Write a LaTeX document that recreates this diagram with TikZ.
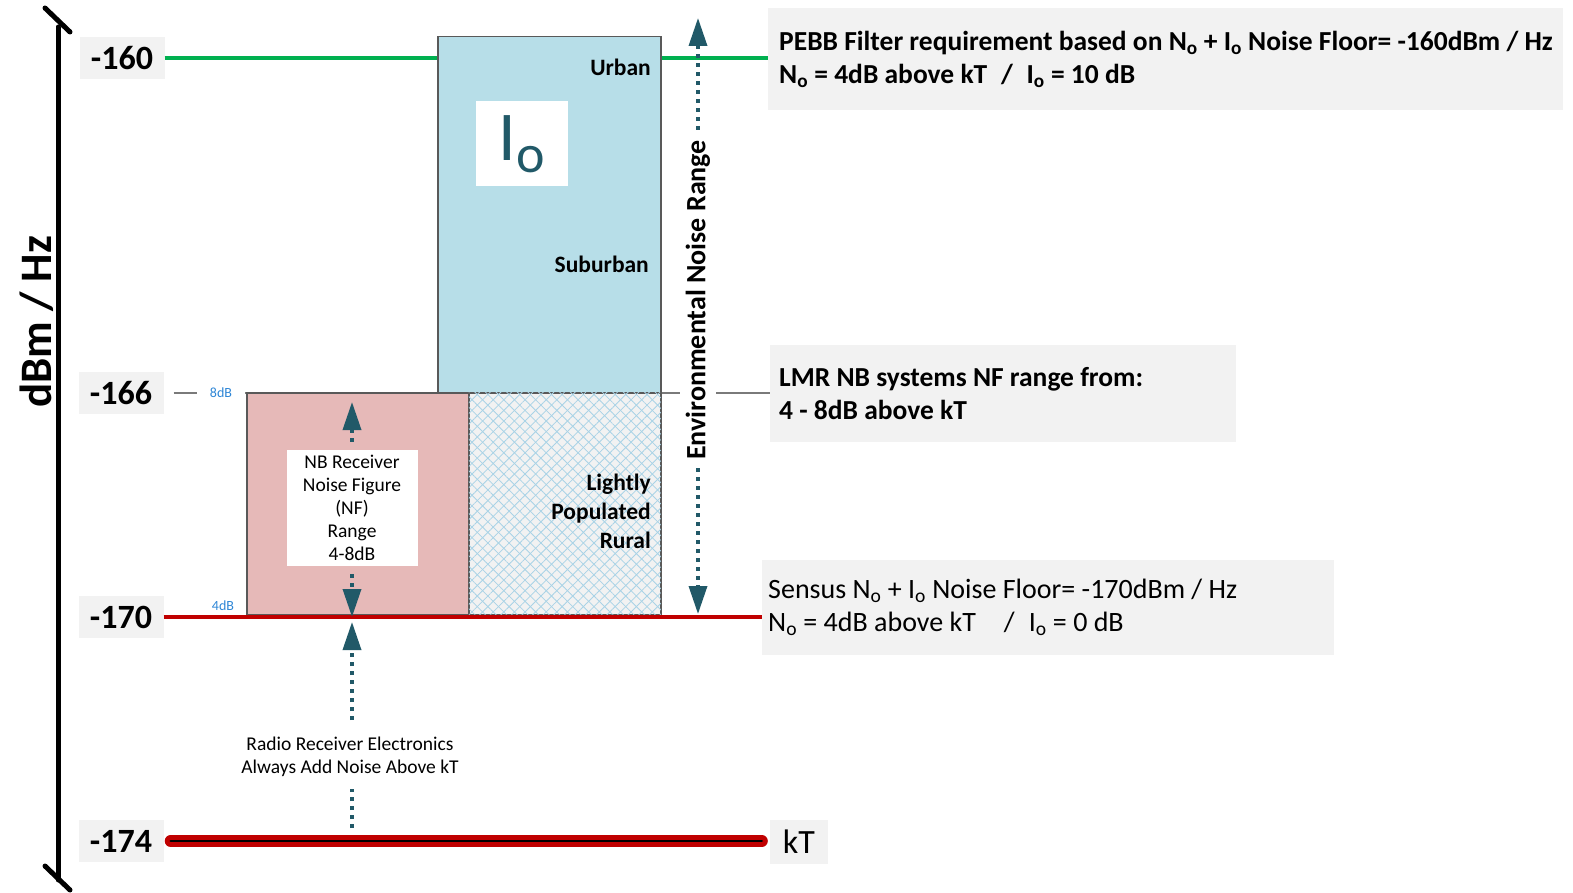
\documentclass[tikz,border=0pt]{standalone}
\usepackage{fontspec}
\setmainfont{Carlito}
\usetikzlibrary{positioning,arrows.meta,patterns.meta}

\definecolor{labelgray}{HTML}{F2F2F2}
\definecolor{iobluefill}{HTML}{B7DEE8}
\definecolor{nfpink}{HTML}{E6B9B8}
\definecolor{hatchblue}{HTML}{A9D3E6}
\definecolor{edgegray}{HTML}{595959}
\definecolor{floorgreen}{HTML}{00B050}
\definecolor{floorred}{HTML}{C00000}
\definecolor{arrowteal}{HTML}{215968}
\definecolor{dbblue}{HTML}{2E86D6}

\tikzset{
  levelbox/.style={fill=labelgray, minimum width=85pt, minimum height=42pt, inner sep=0pt,
    font=\bfseries\fontsize{34}{40}\selectfont},
  notebox/.style={fill=labelgray, anchor=north west, inner sep=0pt},
  notetext/.style={align=left, inner sep=0pt, font=\bfseries\fontsize{27.5}{33}\selectfont},
  band/.style={draw=edgegray, line width=1.5pt, anchor=north west, inner sep=0pt},
  rural/.style={fill=labelgray,
    postaction={pattern={Lines[angle=45,distance=7.5pt,line width=0.8pt]}, pattern color=hatchblue},
    postaction={pattern={Lines[angle=-45,distance=7.5pt,line width=0.8pt]}, pattern color=hatchblue}},
  zone/.style={anchor=east, align=right, inner sep=0pt, font=\bfseries\fontsize{23.5}{29}\selectfont},
  smallnote/.style={fill=white, align=center, font=\fontsize{19.5}{23}\selectfont},
  dblabel/.style={text=dbblue, inner sep=0pt, font=\fontsize{14}{16}\selectfont},
  dotarrow/.style={arrowteal, line width=3.5pt, dash pattern=on 4pt off 5pt,
    -{Triangle[width=18pt,length=28pt]}},
  levelline/.style={line width=3.5pt},
  nfline/.style={edgegray!80, line width=2pt},
  ktline/.style={floorred, line width=12pt, line cap=round,
    postaction={draw=black, line width=2.5pt}},
  axisline/.style={line width=5pt, line cap=round}
}

\begin{document}
\begin{tikzpicture}[x=1pt,y=-1pt]
\useasboundingbox (0,0) rectangle (1573,893);

% Eixo
\draw[axisline] (58,27) -- (58,880);
\draw[axisline] (45,8) -- (70,32);
\draw[axisline] (45,866) -- (70,890);
\node[rotate=90, font=\bfseries\fontsize{45}{50}\selectfont] (unit) at (37,322) {dBm / Hz};

% Níveis
\node[levelbox] (l160) at (122,58) {-160};
\node[levelbox] (l166) at (121,393) {-166};
\node[levelbox] (l170) at (121,617) {-170};
\node[levelbox] (l174) at (121,841) {-174};

% Notas
\node[notebox, minimum width=795pt, minimum height=102pt] (pebbbox) at (768,8) {};
\node[notetext, right=11pt of pebbbox.west] (pebb)
  {PEBB Filter requirement based on N\textsubscript{o} + I\textsubscript{o} Noise Floor= -160dBm / Hz\\
   N\textsubscript{o} = 4dB above kT\enspace/\enspace I\textsubscript{o} = 10 dB};
\node[notebox, minimum width=466pt, minimum height=97pt] (lmrbox) at (770,345) {};
\node[notetext, right=9pt of lmrbox.west] (lmr)
  {LMR NB systems NF range from:\\ 4 - 8dB above kT};
\node[notebox, minimum width=572pt, minimum height=95pt] (sensusbox) at (762,560) {};
\node[notetext, font=\fontsize{28}{33}\selectfont, right=6pt of sensusbox.west] (sensus)
  {Sensus N\textsubscript{o} + I\textsubscript{o} Noise Floor= -170dBm / Hz\\
   N\textsubscript{o} = 4dB above kT\quad/\enspace I\textsubscript{o} = 0 dB};
\node[fill=labelgray, minimum width=58pt, minimum height=44pt, inner sep=0pt,
  font=\fontsize{34}{40}\selectfont] (kt) at (799,842) {kT};

% Linhas
\draw[levelline, floorgreen] (l160.east) -- (pebbbox.west |- l160);
\draw[nfline] ([xshift=10pt]l166.east) -- (246,393);
\draw[nfline] (660,393) -- (lmrbox.west |- l166);

% Faixas
\node[band, fill=iobluefill, minimum width=223pt, minimum height=356pt] (iobox) at (437,36) {};
\node[band, fill=nfpink, minimum width=222pt, minimum height=222pt] (nfbox) at (246,392) {};
\node[band, rural, minimum width=192pt, minimum height=222pt] (ruralbox) at (468,392) {};
\node[fill=white, text=arrowteal, minimum width=92pt, minimum height=85pt, inner sep=0pt] (io) at (522,144)
  {\fontsize{70}{70}\selectfont I\raisebox{-12pt}{\fontsize{54}{54}\selectfont o}};
\node[zone] (urban) at (651,67) {Urban};
\node[zone] (suburban) at (649,264) {Suburban};
\node[zone] (rural) at (651,511) {Lightly\\Populated\\Rural};

\node[dblabel, fill=white, minimum width=48pt] (db8) at (221,393) {8dB};
\node[dblabel] (db4) at (223,606) {4dB};

\draw[levelline, floorred, line width=4pt] (l170.east) -- (sensusbox.west |- l170);
\draw[ktline] ([xshift=7pt]l174.east) -- ([xshift=-8pt]l174 -| kt.west);

% Setas
\node[smallnote, minimum width=131pt, minimum height=116pt, inner sep=0pt] (nbrx) at (352,508)
  {NB Receiver\\Noise Figure\\(NF)\\Range\\4-8dB};
\draw[dotarrow, shorten <=8pt, shorten >=10pt] (nbrx.north) -- (nbrx |- nfbox.north);
\draw[dotarrow, shorten <=8pt] (nbrx.south) -- (nbrx |- l170);

\draw[dotarrow, shorten <=13pt, shorten >=5pt] (nbrx |- l174) -- (nbrx |- l170);
\node[smallnote, inner xsep=4pt, inner ysep=12pt] (rxnote) at (350,757)
  {Radio Receiver Electronics\\Always Add Noise Above kT};

\coordinate (envtop) at (698,18);
\draw[dotarrow, {Triangle[width=18pt,length=28pt]}-{Triangle[width=18pt,length=28pt]}, shorten >=3pt]
  (envtop) -- (envtop |- l170);
\node[rotate=90, fill=white, inner sep=6pt, font=\bfseries\fontsize{28}{30}\selectfont] (env) at (698,300)
  {Environmental Noise Range};
\end{tikzpicture}
\end{document}
